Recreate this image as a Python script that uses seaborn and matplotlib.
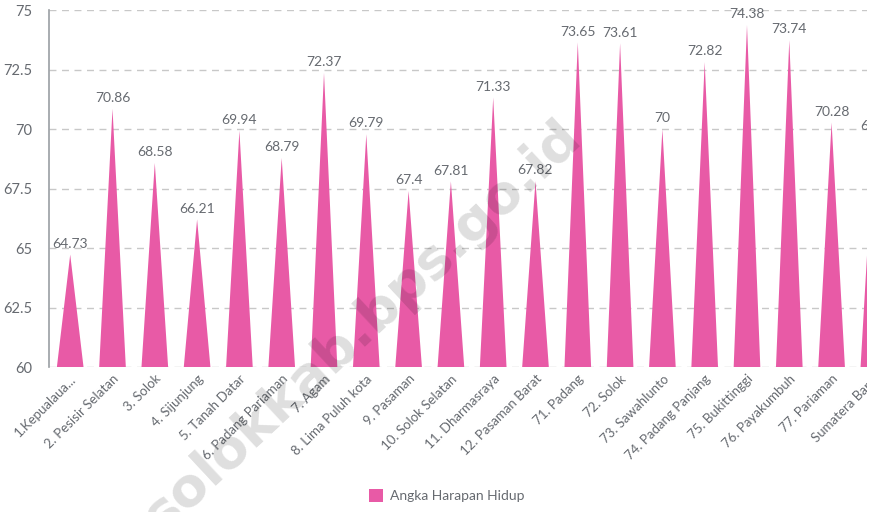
import matplotlib
matplotlib.use("Agg")
import matplotlib.pyplot as plt
import seaborn as sns
import pandas as pd
from matplotlib.patches import Polygon, Patch, Rectangle

categories = ["1.Kepualaua...", "2. Pesisir Selatan", "3. Solok", "4. Sijunjung",
              "5. Tanah Datar", "6. Padang Pariaman", "7. Agam", "8. Lima Puluh kota",
              "9. Pasaman", "10. Solok Selatan", "11. Dharmasraya", "12. Pasaman Barat",
              "71. Padang", "72. Solok", "73. Sawahlunto", "74. Padang Panjang",
              "75. Bukittinggi", "76. Payakumbuh", "77. Pariaman", "Sumatera Barat"]
values = [64.73, 70.86, 68.58, 66.21, 69.94, 68.79, 72.37, 69.79, 67.4, 67.81,
          71.33, 67.82, 73.65, 73.61, 70, 72.82, 74.38, 73.74, 70.28, 69.7]
value_labels = ["64.73", "70.86", "68.58", "66.21", "69.94", "68.79", "72.37", "69.79",
                "67.4", "67.81", "71.33", "67.82", "73.65", "73.61", "70", "72.82",
                "74.38", "73.74", "70.28", "69.7"]
series_name = "Angka Harapan Hidup"
yticks = [60, 62.5, 65, 67.5, 70, 72.5, 75]

sns.set_theme(style="white")
plt.rcParams['font.family'] = ['Lato', 'DejaVu Sans']

pink = "#E85AA6"
grey = "#666A70"

df = pd.DataFrame({"cat": categories, "val": values})
fig = plt.figure(figsize=(8.76, 5.12), dpi=100)
ax = fig.add_axes([0.056, 0.283, 0.944, 0.697])
sns.barplot(data=df, x="cat", y="val", color=pink, width=0.63, ax=ax)

ymin = 60
for patch, v, lab in zip(list(ax.patches), values, value_labels):
    x0 = patch.get_x()
    w = patch.get_width()
    h = patch.get_height()
    patch.set_visible(False)
    tri = Polygon([(x0, ymin), (x0 + w, ymin), (x0 + w / 2, h)], closed=True,
                  facecolor=pink, edgecolor="none", zorder=3)
    ax.add_patch(tri)
    ax.text(x0 + w / 2, h + 0.2, lab, ha="center", va="bottom", fontsize=10,
            color=grey, zorder=4, clip_on=False)

ax.set_ylim(60, 75)
ax.set_xlim(-0.5, 19.05)
ax.set_yticks(yticks)
ax.set_yticklabels(["60", "62.5", "65", "67.5", "70", "72.5", "75"])
ax.yaxis.grid(True, linestyle=(0, (5, 4)), color="#C8C8C8", linewidth=1)
ax.set_axisbelow(True)
for s in ["top", "right", "bottom"]:
    ax.spines[s].set_visible(False)
ax.spines["left"].set_color("#9A9EA3")
ax.spines["left"].set_linewidth(1.2)
ax.set_xlabel("")
ax.set_ylabel("")
ax.tick_params(axis="y", labelsize=10.5, colors=grey, length=0, pad=12)
ax.tick_params(axis="x", labelsize=9.5, colors=grey, length=0, pad=4)
plt.setp(ax.get_xticklabels(), rotation=45, ha="right", rotation_mode="anchor")

fig.text(0.413, 0.363, "solokkab.bps.go.id", fontsize=39, fontweight="bold",
         color="#000000", alpha=0.13, rotation=43, ha="center", va="center",
         family="DejaVu Sans", zorder=10)

# the source view ends a few pixels before the image's right edge
fig.add_artist(Rectangle((867 / 876, 0), 1 - 867 / 876, 1, transform=fig.transFigure,
                         facecolor="white", edgecolor="none", zorder=100))

fig.legend(handles=[Patch(facecolor=pink, edgecolor="none", label=series_name)],
           loc="lower center", bbox_to_anchor=(0.51, -0.005), frameon=False,
           fontsize=10, labelcolor=grey, handlelength=1.0, handleheight=1.0,
           handletextpad=0.5)

fig.savefig("out.png", dpi=100)
